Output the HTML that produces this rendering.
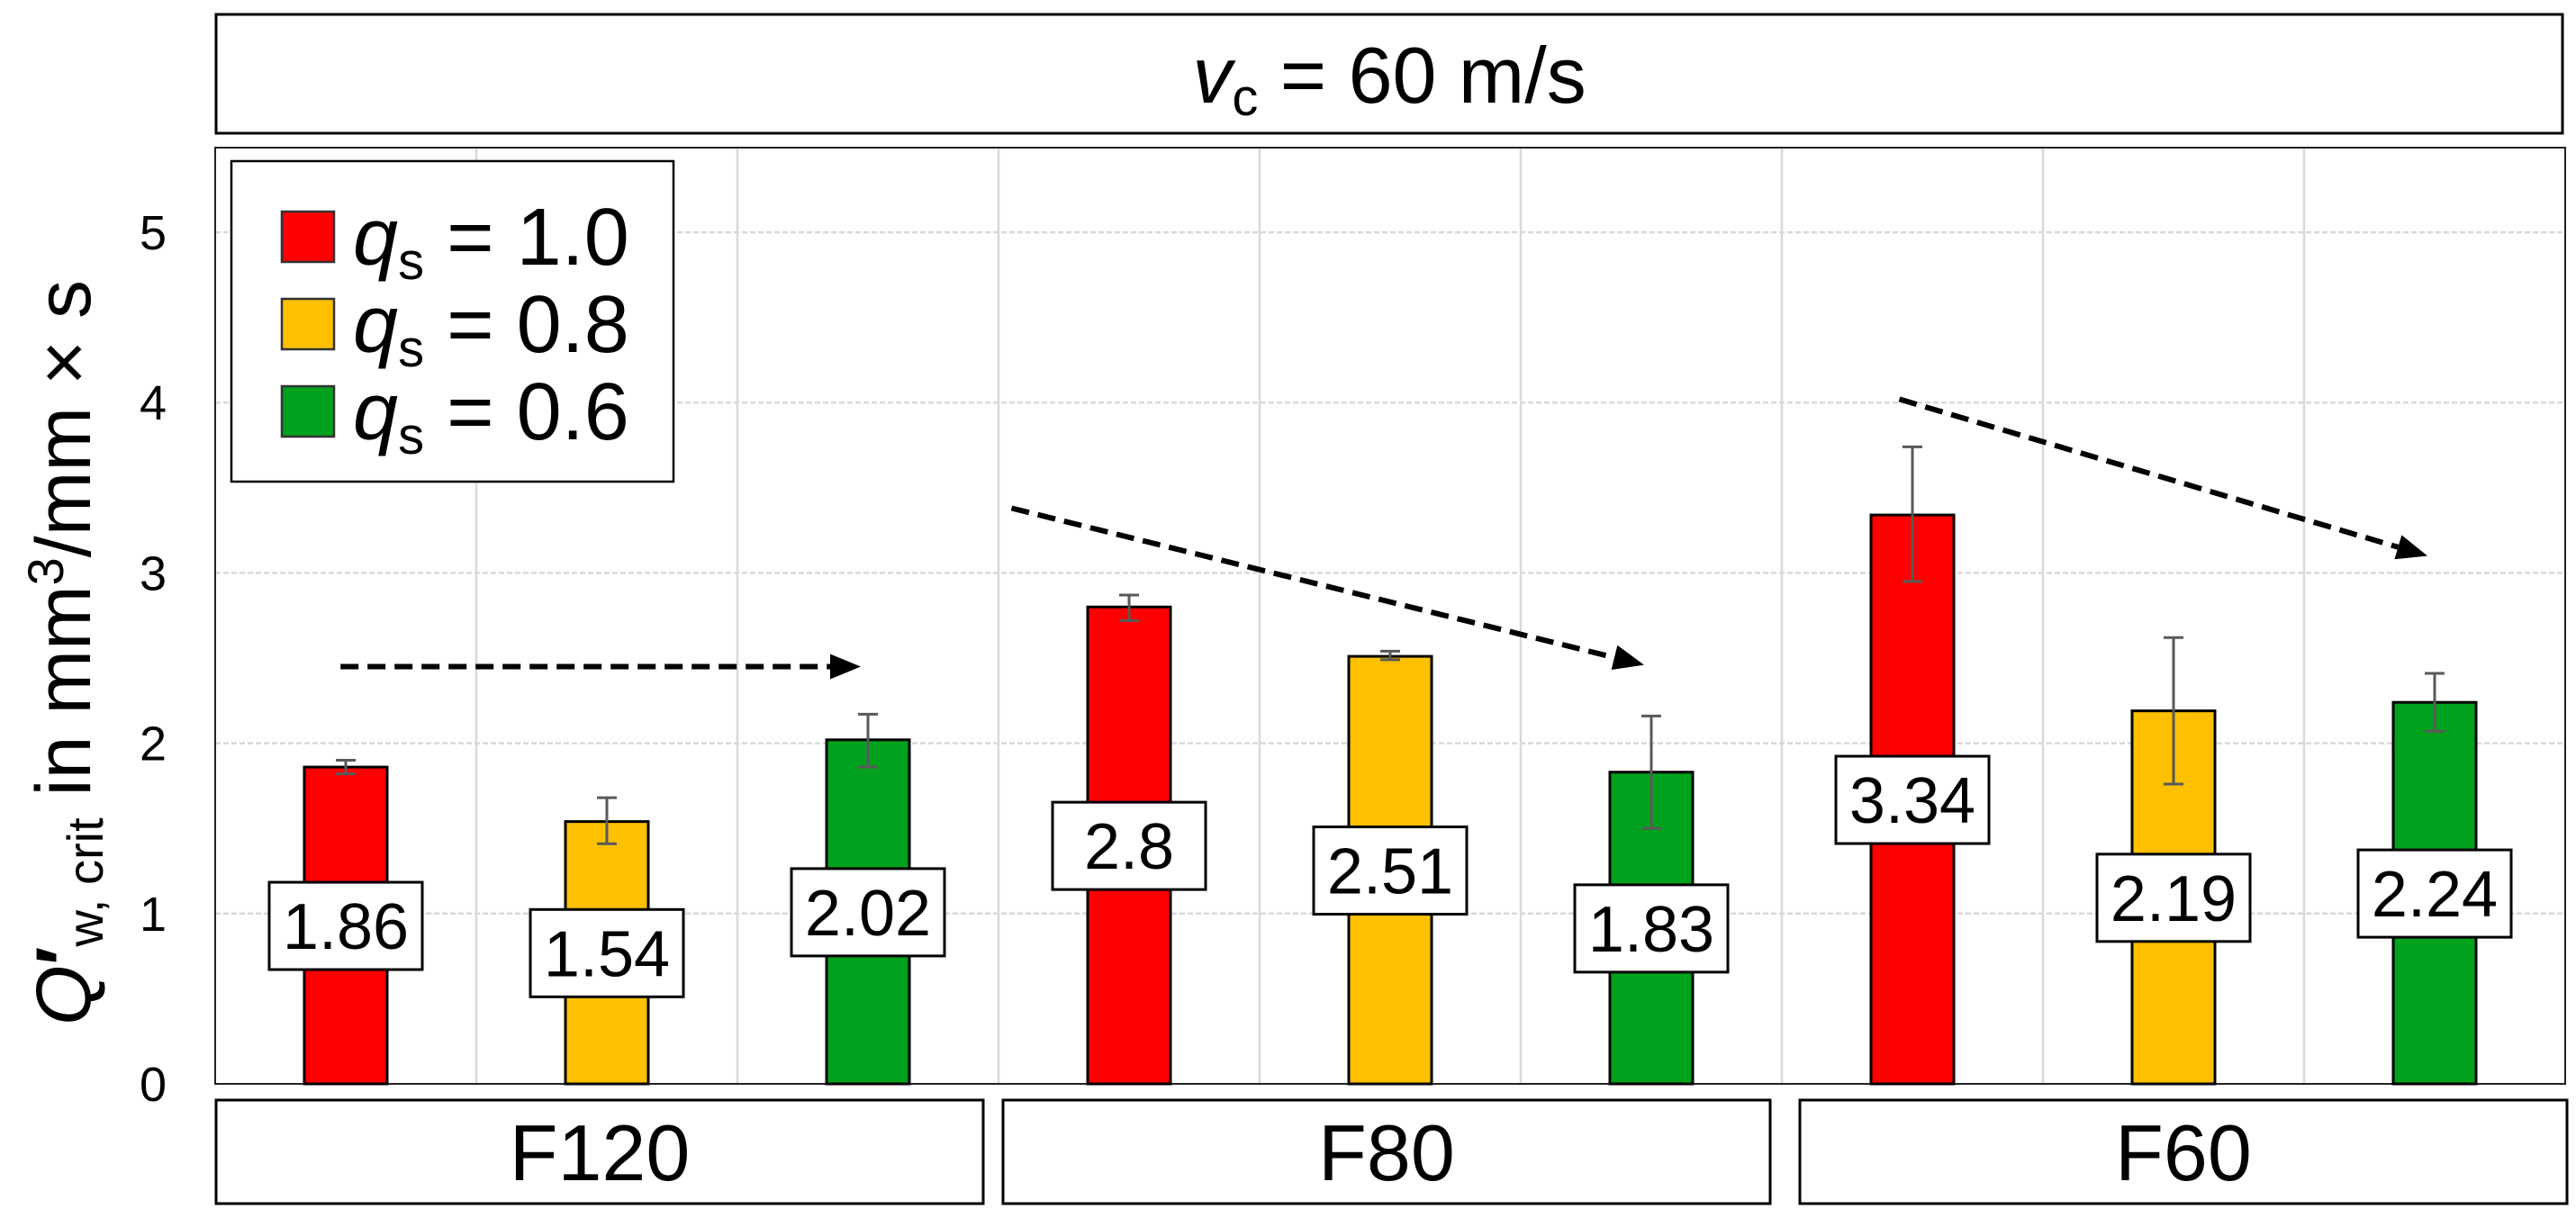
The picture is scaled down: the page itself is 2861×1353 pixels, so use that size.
<!DOCTYPE html>
<html><head><meta charset="utf-8"><style>
html,body{margin:0;padding:0;background:#fff;}
svg{display:block;font-family:"Liberation Sans",Arial,sans-serif;}
</style></head><body>
<svg id="chart" width="2861" height="1353" viewBox="0 0 2861 1353" xmlns="http://www.w3.org/2000/svg">
<rect x="0" y="0" width="2861" height="1353" fill="#fff"/>
<g>
<rect x="240" y="16" width="2606" height="132" fill="#fff" stroke="#000" stroke-width="3"/>
<text x="1543" y="114" font-size="88" text-anchor="middle"><tspan font-style="italic">v</tspan><tspan font-size="58" dy="14">c</tspan><tspan dy="-14"> = 60 m/s</tspan></text>
</g>
<g id="grid"></g>
<g id="bars"></g>
<g id="arrows"></g>
<g id="labels"></g>
<g id="yticks"></g>
<text transform="translate(100,725) rotate(-90)" font-size="86" text-anchor="middle"><tspan font-style="italic">Q</tspan><tspan font-weight="bold">′</tspan><tspan font-size="56" dy="14">w, crit</tspan><tspan dy="-14"> in mm</tspan><tspan font-size="56" dy="-30">3</tspan><tspan dy="30">/mm × s</tspan></text>
<g id="groups"></g>
<g>
<rect x="257" y="179" width="491" height="356" fill="#fff" stroke="#000" stroke-width="2.5"/>
<g id="legend"></g>
</g>
</svg>
<script>
const groups = ["F120","F80","F60"];
const seriesNames = ["1.0","0.8","0.6"];
const seriesColors = ["#ff0000","#ffc000","#00a21d"];
const values = [[1.86,2.8,3.34],[1.54,2.51,2.19],[2.02,1.83,2.24]];
const errLow = [[1.82,2.72,2.95],[1.41,2.49,1.76],[1.86,1.50,2.07]];
const errHigh = [[1.90,2.87,3.74],[1.68,2.54,2.62],[2.17,2.16,2.41]];
const labelText = [["1.86","2.8","3.34"],["1.54","2.51","2.19"],["2.02","1.83","2.24"]];
const yTicks = [0,1,2,3,4,5];
const arrowStart = [[0,0,2.45],[1,0,3.38],[2,0,4.02]];
const arrowEnd = [[0,2,2.45],[1,2,2.46],[2,2,3.10]];
const arrowStartOff = [-0.02,-0.45,-0.05];

const NS="http://www.w3.org/2000/svg";
const L=239,R=2849,T=164,B=1204;
const colW=(R-L)/9;
function y(v){return B-(v/5)*(B-258);}
function xc(g,s){return L+colW*(g*3+s+0.5);}
function mk(tag,attrs,parent){const e=document.createElementNS(NS,tag);for(const k in attrs)e.setAttribute(k,attrs[k]);parent.appendChild(e);return e;}
const grid=document.getElementById('grid');
for(let i=1;i<9;i++){const ln=mk('line',{x1:L+colW*i,x2:L+colW*i,y1:T,y2:B,stroke:'#d9d9d9','stroke-width':2.5},grid);

}
const yt=document.getElementById('yticks');
yTicks.forEach(t=>{if(t>0){const ln=mk('line',{x1:L,x2:R,y1:y(t),y2:y(t),stroke:'#d9d9d9','stroke-width':2.5,'stroke-dasharray':'6,3'},grid);

}
const tx=mk('text',{x:170,y:y(t)+19,'font-size':54,'text-anchor':'middle'},yt);tx.textContent=t;

});
const pb=mk('rect',{x:L,y:T,width:R-L,height:B-T,fill:'none',stroke:'#222','stroke-width':2},grid);


const bars=document.getElementById('bars'),labels=document.getElementById('labels');
const bw=92;
for(let s=0;s<3;s++)for(let g=0;g<3;g++){
 const v=values[s][g],cx=xc(g,s);
 const r=mk('rect',{x:cx-bw/2,y:y(v),width:bw,height:B-y(v),fill:seriesColors[s],stroke:'#000','stroke-width':3},bars);
 
 
 const eb=mk('path',{d:`M${cx},${y(errLow[s][g])}V${y(errHigh[s][g])}M${cx-11},${y(errLow[s][g])}H${cx+11}M${cx-11},${y(errHigh[s][g])}H${cx+11}`,stroke:'#595959','stroke-width':3,fill:'none'},bars);
 
 
 const my=y(v/2);
 const lb=mk('rect',{x:cx-85,y:my-48,width:170,height:97,fill:'#fff',stroke:'#000','stroke-width':3},labels);
 
 
 const t=mk('text',{x:cx,y:my+26,'font-size':72,'text-anchor':'middle'},labels);t.textContent=labelText[s][g];
 
 
}
const ar=document.getElementById('arrows');
for(let i=0;i<3;i++){
 const x1=xc(arrowStart[i][0],arrowStart[i][1])+arrowStartOff[i]*colW,y1=y(arrowStart[i][2]);
 const x2=xc(arrowEnd[i][0],arrowEnd[i][1])-8,y2=y(arrowEnd[i][2]);
 const ang=Math.atan2(y2-y1,x2-x1),hl=34,hw=14;
 const bx=x2-hl*Math.cos(ang),by=y2-hl*Math.sin(ang);
 const ln=mk('line',{x1:x1,y1:y1,x2:bx,y2:by,stroke:'#000','stroke-width':6,'stroke-dasharray':'20,10'},ar);
 
 
 const px=-Math.sin(ang)*hw,py=Math.cos(ang)*hw;
 const hd=mk('polygon',{points:`${x2},${y2} ${bx+px},${by+py} ${bx-px},${by-py}`,fill:'#000'},ar);
 
 
}
const gg=document.getElementById('groups');
const gx=[[240,1092],[1114,1966],[1999,2851]];
groups.forEach((n,i)=>{const r=mk('rect',{x:gx[i][0],y:1222,width:gx[i][1]-gx[i][0],height:115,fill:'#fff',stroke:'#000','stroke-width':3},gg);


const t=mk('text',{x:(gx[i][0]+gx[i][1])/2,y:1311,'font-size':88,'text-anchor':'middle'},gg);t.textContent=n;

});
const lg=document.getElementById('legend');
const ly=[263,360,457];
seriesNames.forEach((n,i)=>{const r=mk('rect',{x:313,y:ly[i]-28,width:58,height:56,fill:seriesColors[i],stroke:'#333','stroke-width':2.5},lg);


const t=mk('text',{x:392,y:ly[i]+31,'font-size':90},lg);
t.innerHTML='<tspan font-style="italic">q</tspan><tspan font-size="58" dy="16">s</tspan><tspan dy="-16"> = '+n+'</tspan>';

});
</script>
</body></html>
